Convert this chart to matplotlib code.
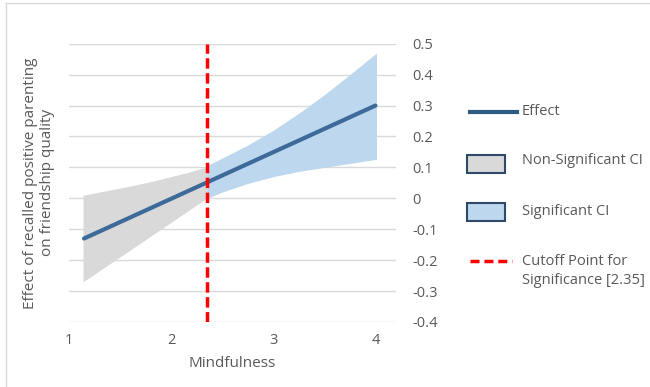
import numpy as np
import matplotlib.pyplot as plt
from matplotlib.lines import Line2D
from matplotlib.patches import Rectangle

plt.rcParams['font.family'] = ['Open Sans', 'DejaVu Sans']

# effect line
effect_x = [1.15, 4.0]
effect_y = [-0.13, 0.30]

# non-significant confidence band (left of cutoff)
ns_x = [1.14, 1.5, 1.75, 2.0, 2.2, 2.35]
ns_upper = [0.01, 0.033, 0.05, 0.07, 0.087, 0.102]
ns_lower = [-0.27, -0.19, -0.134, -0.078, -0.033, 0.0]

# significant confidence band (right of cutoff)
sig_x = [2.35, 2.5, 2.75, 3.0, 3.25, 3.5, 3.75, 4.01]
sig_upper = [0.105, 0.13, 0.172, 0.22, 0.275, 0.335, 0.40, 0.47]
sig_lower = [0.0, 0.02, 0.048, 0.07, 0.087, 0.10, 0.113, 0.126]

cutoff = 2.35
xticks = [1, 2, 3, 4]
yticks = [-0.4, -0.3, -0.2, -0.1, 0, 0.1, 0.2, 0.3, 0.4, 0.5]
ytick_labels = ["-0.4", "-0.3", "-0.2", "-0.1", "0", "0.1", "0.2", "0.3", "0.4", "0.5"]

txt = "#595959"
line_col = "#3d6a98"
grey = "#d9d9d9"
blue = "#bdd7ee"

fig = plt.figure(figsize=(6.5, 3.87), dpi=100)
ax = fig.add_axes([0.1057, 0.168, 0.5033, 0.719])

ax.fill_between(ns_x, ns_lower, ns_upper, color=grey, lw=0, zorder=1)
ax.fill_between(sig_x, sig_lower, sig_upper, color=blue, lw=0, zorder=1)
ax.plot(effect_x, effect_y, color=line_col, lw=3, solid_capstyle="round", zorder=3)
ax.plot([cutoff, cutoff], [-0.4, 0.5], color="#ff0000", lw=2.5, ls=(0, (3.0, 1.3)), zorder=4)

ax.set_xlim(1, 4.2)
ax.set_ylim(-0.4, 0.5)
ax.set_xticks(xticks)
ax.set_yticks(yticks)
ax.set_yticklabels(ytick_labels)
ax.yaxis.tick_right()
ax.grid(axis="y", color="#d9d9d9", lw=1, zorder=0)
ax.set_axisbelow(True)
for s in ax.spines.values():
    s.set_visible(False)
ax.tick_params(length=0, colors=txt, labelsize=10.5)
ax.tick_params(axis="y", pad=12)
ax.tick_params(axis="x", pad=8)
ax.set_xlabel("Mindfulness", color=txt, fontsize=11, labelpad=6)
ax.set_ylabel("Effect of recalled positive parenting\non friendship quality", color=txt,
              fontsize=11, labelpad=10)

# legend drawn in figure pixel space
W, H = 650, 387
def fx(px):
    return px / W
def fy(py):
    return 1 - py / H

fig.add_artist(Line2D([fx(470), fx(517)], [fy(111.5), fy(111.5)], color="#2f5a84", lw=3))
fig.text(fx(522), fy(111.5), "Effect", color=txt, fontsize=10.5, va="center")
fig.add_artist(Rectangle((fx(467), fy(173)), fx(38), 18 / H, facecolor=grey, edgecolor="#2e4a68", lw=1.5))
fig.text(fx(522), fy(161), "Non-Significant CI", color=txt, fontsize=10.5, va="center")
fig.add_artist(Rectangle((fx(467), fy(221)), fx(38), 18 / H, facecolor=blue, edgecolor="#2e4a68", lw=1.5))
fig.text(fx(522), fy(211), "Significant CI", color=txt, fontsize=10.5, va="center")
fig.add_artist(Line2D([fx(470), fx(512)], [fy(261), fy(261)], color="#ff0000", lw=2.5, ls=(0, (2.6, 1.4))))
fig.text(fx(522), fy(271), "Cutoff Point for\nSignificance [2.35]", color=txt, fontsize=10.5,
         va="center", linespacing=1.35)

# chart border (top and left edges visible)
fig.add_artist(Line2D([fx(6), 1], [fy(3), fy(3)], color="#d9d9d9", lw=1))
fig.add_artist(Line2D([fx(6), fx(6)], [fy(3), 0], color="#d9d9d9", lw=1))

fig.savefig("out.png", dpi=100)
